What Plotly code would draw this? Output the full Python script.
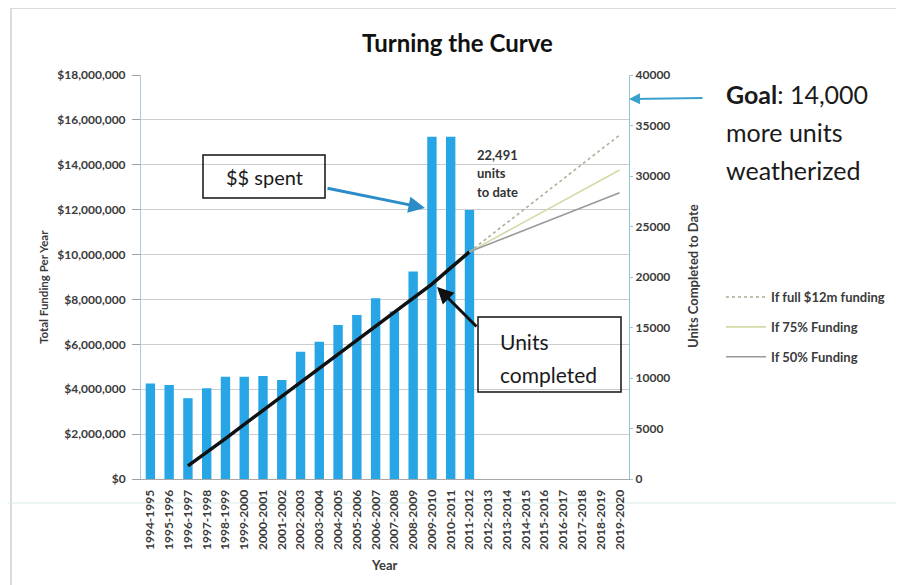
import plotly.graph_objects as go

# ---------------- data ----------------
years = ["1994-1995", "1995-1996", "1996-1997", "1997-1998", "1998-1999", "1999-2000",
         "2000-2001", "2001-2002", "2002-2003", "2003-2004", "2004-2005", "2005-2006",
         "2006-2007", "2007-2008", "2008-2009", "2009-2010", "2010-2011", "2011-2012",
         "2012-2013", "2013-2014", "2014-2015", "2015-2016", "2016-2017", "2017-2018",
         "2018-2019", "2019-2020"]

funding_years = years[:18]
funding = [4260000, 4190000, 3600000, 4040000, 4560000, 4560000, 4590000, 4410000,
           5670000, 6120000, 6860000, 7310000, 8050000, 7460000, 9240000, 15250000,
           15250000, 11980000]

units_years = years[2:18]
units = [1300, 2600, 4000, 5400, 6800, 8200, 9600, 10900, 12300, 13700, 15100,
         16500, 17900, 19300, 20900, 22491]

proj_years = years[17:]
proj_full = [22491, 23940, 25380, 26830, 28270, 29720, 31160, 32610, 34050]
proj_75 = [22491, 23500, 24510, 25530, 26540, 27550, 28560, 29580, 30590]
proj_50 = [22491, 23220, 23960, 24690, 25420, 26150, 26880, 27620, 28350]

# ---------------- layout helpers (page pixel -> paper) ----------------
W, H = 904, 585
OFF = 8  # page body margin offset of the figure
L, R, T, B = 141, 629, 75, 479  # plot area in page pixels
PW, PH = R - L, B - T


def px(x):
    return (x - L) / PW


def py(y):
    return (B - y) / PH


FONT = "Lato"
DARK = "#3a3a3a"

fig = go.Figure()

fig.add_trace(go.Bar(x=funding_years, y=funding, marker_color="#27a5e5",
                     marker_line_width=0, width=0.5, showlegend=False,
                     name="Total Funding"))
fig.add_trace(go.Scatter(x=units_years, y=units, yaxis="y2", mode="lines",
                         line=dict(color="#111111", width=3.5), showlegend=False,
                         name="Units completed"))
fig.add_trace(go.Scatter(x=proj_years, y=proj_full, yaxis="y2", mode="lines",
                         line=dict(color="#a3b394", width=1.6, dash="dot"),
                         name="If full $12m funding", legendgroup="a"))
fig.add_trace(go.Scatter(x=proj_years, y=proj_75, yaxis="y2", mode="lines",
                         line=dict(color="#d6d9a8", width=1.6),
                         name="If 75% Funding", legendgroup="b"))
fig.add_trace(go.Scatter(x=proj_years, y=proj_50, yaxis="y2", mode="lines",
                         line=dict(color="#9a9a9a", width=1.6),
                         name="If 50% Funding", legendgroup="c"))

tickfont = dict(family=FONT, size=12, color=DARK, weight="bold")

fig.update_layout(
    width=W, height=H,
    margin=dict(l=L - OFF, r=W - (R - OFF), t=T - OFF, b=H - (B - OFF)),
    paper_bgcolor="white", plot_bgcolor="white",
    font=dict(family=FONT, color=DARK),
    bargap=0.5,
    xaxis=dict(type="category", categoryorder="array", categoryarray=years,
               range=[-0.5, len(years) - 0.5], tickangle=-90, tickfont=tickfont,
               showline=True, linecolor="#a8a8a8", linewidth=1, showgrid=False,
               ticks="", ticklabelstandoff=5, automargin=False, zeroline=False),
    yaxis=dict(range=[0, 18000000], dtick=2000000, tickprefix="$", tickformat=",d",
               showgrid=True, gridcolor="#cdcdcd", gridwidth=1, ticks="outside",
               ticklen=8, tickcolor="#a0a0a0", showline=True, linecolor="#b0c8d8",
               tickfont=tickfont, ticklabelstandoff=4, automargin=False, zeroline=False),
    yaxis2=dict(range=[0, 40000], dtick=5000, tickformat="d", overlaying="y", side="right",
                showgrid=False, ticks="outside", ticklen=3, tickcolor="#9cc8d0",
                showline=True, linecolor="#8fc6cf", linewidth=1.2, tickfont=tickfont,
                ticklabelstandoff=0, automargin=False, zeroline=False),
    legend=dict(x=px(721), y=py(282), xanchor="left", yanchor="top",
                font=dict(family=FONT, size=13, color=DARK, weight="bold"),
                bgcolor="rgba(0,0,0,0)", itemwidth=40, tracegroupgap=10,
                traceorder="grouped"),
)

ann = []


def text(x, y, s, size, **kw):
    d = dict(x=px(x), y=py(y), xref="paper", yref="paper", text=s, showarrow=False,
             xanchor="center", yanchor="middle",
             font=dict(family=FONT, size=size, color=kw.pop("color", "#1a1a1a"),
                       weight=kw.pop("weight", "normal")))
    d.update(kw)
    ann.append(d)


# title and axis titles
text(457, 43, "<b>Turning the Curve</b>", 24, color="#111111")
text(384, 565, "<b>Year</b>", 13, color=DARK)
text(43, 287, "<b>Total Funding Per Year</b>", 11.5, color=DARK, textangle=-90)
text(693, 276, "<b>Units Completed to Date</b>", 13, color=DARK, textangle=-90)

# callouts
text(264, 177, "&#36;&#36; spent", 20)
text(498, 342, "Units", 21, xanchor="left")
text(498, 374, "completed", 21, xanchor="left")
text(475, 155, "22,491", 13, xanchor="left", color="#333333", weight="bold")
text(475, 173, "units", 13, xanchor="left", color="#333333", weight="bold")
text(475, 192, "to date", 13, xanchor="left", color="#333333", weight="bold")
text(724, 94, "<b>Goal</b>: 14,000", 25, xanchor="left")
text(724, 132, "more units", 25, xanchor="left")
text(724, 170, "weatherized", 25, xanchor="left")


def arrow(x0, y0, x1, y1, color, width):
    ann.append(dict(x=px(x1), y=py(y1), xref="paper", yref="paper",
                    ax=x0 - x1, ay=y0 - y1, axref="pixel", ayref="pixel",
                    showarrow=True, arrowhead=2, arrowsize=1.1, arrowwidth=width,
                    arrowcolor=color, text=""))


arrow(326, 188, 425, 208, "#2b8cc8", 3)
arrow(478, 328, 437, 287, "#111111", 3)
arrow(704, 98, 629, 99, "#3aa0cc", 2)

fig.update_layout(annotations=ann)

shapes = [
    dict(type="rect", xref="paper", yref="paper", x0=px(203), x1=px(325), y0=py(155), y1=py(198),
         line=dict(color="#111111", width=1.5), fillcolor="rgba(255,255,255,0)"),
    dict(type="rect", xref="paper", yref="paper", x0=px(478), x1=px(621), y0=py(317), y1=py(392),
         line=dict(color="#111111", width=1.5), fillcolor="rgba(255,255,255,0)"),
    dict(type="rect", xref="paper", yref="paper", x0=px(11), x1=px(899), y0=py(8), y1=py(600),
         line=dict(color="#cfcfcf", width=1.5), layer="below"),
    dict(type="line", xref="paper", yref="paper", x0=px(0), x1=px(904), y0=py(503), y1=py(503),
         line=dict(color="#d8eeea", width=1.2), layer="below"),
]
fig.update_layout(shapes=shapes)

fig.write_html("out.html")
